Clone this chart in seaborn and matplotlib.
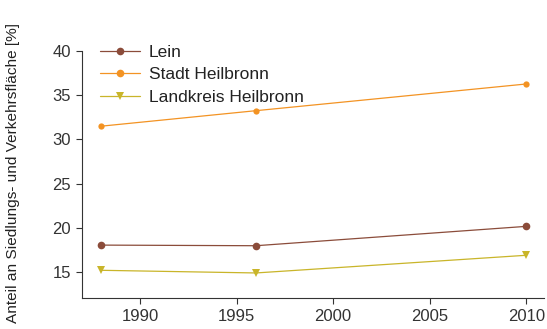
import pandas as pd
import matplotlib.pyplot as plt
import seaborn as sns

# data
years = [1988, 1996, 2010]
lein = [18.05, 17.98, 20.17]
stadt_hn = [31.5, 33.25, 36.27]
landkreis_hn = [15.2, 14.9, 16.9]

names = ['Lein', 'Stadt Heilbronn', 'Landkreis Heilbronn']
colors = ['#8b4c3a', '#f39323', '#c9b52a']

df = pd.DataFrame({
    'year': years * 3,
    'value': lein + stadt_hn + landkreis_hn,
    'area': [names[0]] * 3 + [names[1]] * 3 + [names[2]] * 3,
})

sns.set_style('ticks')
plt.rcParams['font.family'] = ['Liberation Sans', 'DejaVu Sans']
plt.rcParams['text.color'] = '#222222'
plt.rcParams['axes.labelcolor'] = '#222222'
plt.rcParams['xtick.color'] = '#333333'
plt.rcParams['ytick.color'] = '#333333'

fig = plt.figure(figsize=(5.47, 3.29), dpi=100)
ax = fig.add_axes([0.15, 0.094, 0.845, 0.751])

sns.lineplot(data=df, x='year', y='value', hue='area', style='area',
             hue_order=names, style_order=names, palette=colors,
             markers={'Lein': 'o', 'Stadt Heilbronn': 'o', 'Landkreis Heilbronn': 'v'},
             dashes=False, linewidth=0.9, markersize=5.5, markeredgewidth=0,
             ax=ax, legend=True)
# Stadt markers slightly smaller
ax.lines[1].set_markersize(4.5)

ax.set_xlim(1987.0, 2010.93)
ax.set_ylim(12.06, 40.0)
ax.set_xticks([1990, 1995, 2000, 2005, 2010])
ax.set_yticks([15, 20, 25, 30, 35, 40])
ax.tick_params(axis='both', labelsize=12, length=4, width=0.8, pad=4)
ax.set_xlabel('')
ax.set_ylabel('Anteil an Siedlungs- und Verkehrsfläche [%]', fontsize=11.1)
ax.yaxis.set_label_coords(-0.135, 0.505)
for s in ['left', 'bottom']:
    ax.spines[s].set_color('#333333')
    ax.spines[s].set_linewidth(0.8)
sns.despine(ax=ax)

leg = ax.legend(loc='upper left', bbox_to_anchor=(0.155, 0.912),
                bbox_transform=fig.transFigure, frameon=False, fontsize=12.5,
                handlelength=2.3, labelspacing=0.42, handletextpad=0.5)

plt.savefig('out.png', dpi=100)
